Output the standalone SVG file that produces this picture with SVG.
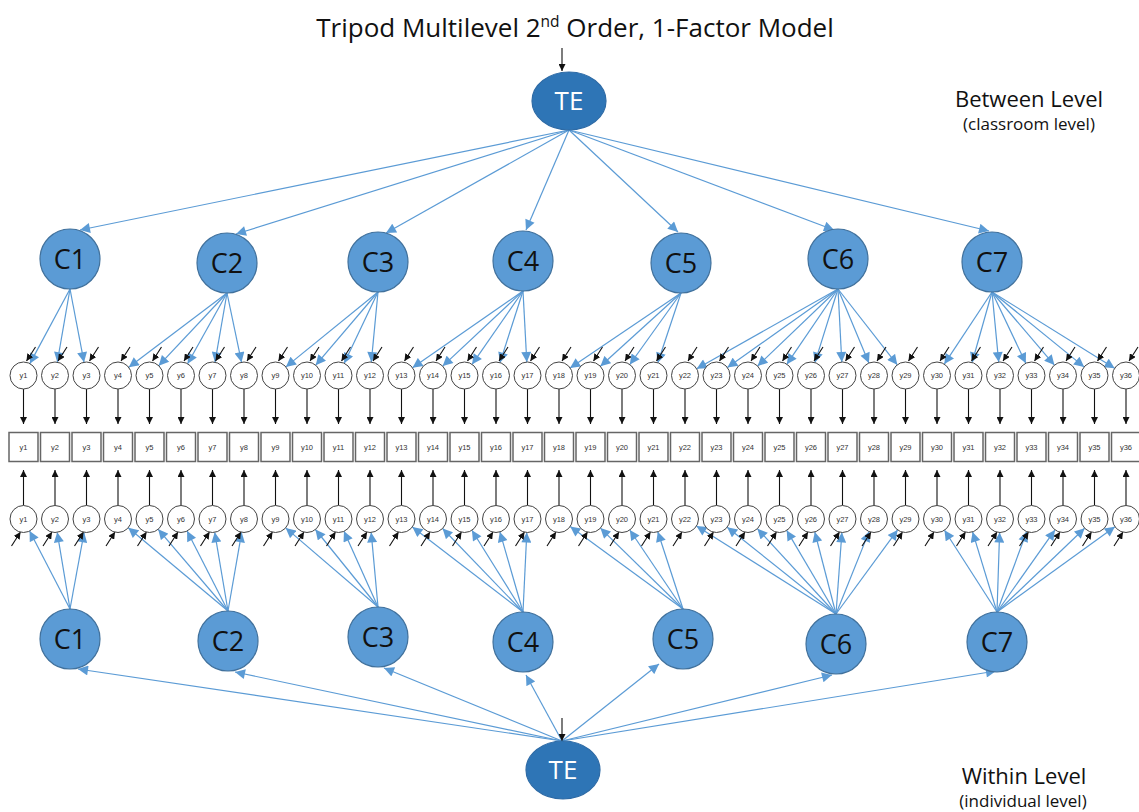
<svg xmlns="http://www.w3.org/2000/svg" width="1139" height="812" viewBox="0 0 1139 812">
<defs>
<marker id="ab" viewBox="0 0 10 10" refX="10" refY="5" markerWidth="11" markerHeight="10" markerUnits="userSpaceOnUse" orient="auto"><path d="M0,0 L10,5 L0,10 z" fill="#5B9BD5"/></marker>
<marker id="ak" viewBox="0 0 10 10" refX="10" refY="5" markerWidth="7" markerHeight="7" markerUnits="userSpaceOnUse" orient="auto"><path d="M0,0 L10,5 L0,10 z" fill="#111"/></marker>
</defs>
<style>
.lbl{font-family:"Open Sans","Liberation Sans",sans-serif;fill:#111}
.it circle{fill:#fff;stroke:#444;stroke-width:1}
.it rect{fill:#fff;stroke:#666;stroke-width:1.5}
.it text{font-family:"Liberation Sans",Arial,sans-serif;font-size:7.5px;text-anchor:middle;fill:#333}
.c ellipse{fill:#5B9BD5;stroke:#41719C;stroke-width:1.2}
.c text{font-family:"Open Sans","Liberation Sans",sans-serif;font-size:27px;text-anchor:middle;fill:#111}
.te ellipse{fill:#2E75B6;stroke:#2E6BA6;stroke-width:1.2}
.te text{font-family:"Open Sans","Liberation Sans",sans-serif;font-size:26px;text-anchor:middle;fill:#fff}
.bl line{stroke:#5B9BD5;stroke-width:1.2;marker-end:url(#ab)}
.bk line{stroke:#111;stroke-width:1.1;marker-end:url(#ak)}
</style>
<rect width="1139" height="812" fill="#fff"/>
<text class="lbl" x="575" y="37" font-size="26" text-anchor="middle">Tripod Multilevel 2<tspan font-size="15.5" dy="-10">nd</tspan><tspan dy="10"> Order, 1-Factor Model</tspan></text>
<text class="lbl" x="1029" y="107" font-size="22" text-anchor="middle">Between Level</text>
<text class="lbl" x="1029" y="130" font-size="17" text-anchor="middle">(classroom level)</text>
<text class="lbl" x="1024" y="784" font-size="22" text-anchor="middle">Within Level</text>
<text class="lbl" x="1023" y="807" font-size="17" text-anchor="middle">(individual level)</text>

<g id="connectors">
<g class="bl">
<line x1="569" y1="130" x2="80" y2="230"/>
<line x1="569" y1="130" x2="236" y2="234"/>
<line x1="569" y1="130" x2="386" y2="233"/>
<line x1="569" y1="130" x2="526" y2="230"/>
<line x1="569" y1="130" x2="678" y2="232"/>
<line x1="569" y1="130" x2="834" y2="230"/>
<line x1="569" y1="130" x2="989" y2="231"/>
<line x1="562" y1="741" x2="78" y2="669"/>
<line x1="562" y1="741" x2="235" y2="672"/>
<line x1="562" y1="741" x2="384" y2="668"/>
<line x1="562" y1="741" x2="526" y2="675"/>
<line x1="562" y1="741" x2="659" y2="664"/>
<line x1="562" y1="741" x2="832" y2="675"/>
<line x1="562" y1="741" x2="996" y2="671"/>
<line x1="70" y1="289" x2="29.9" y2="363.6"/>
<line x1="70" y1="289" x2="57.3" y2="362.2"/>
<line x1="70" y1="289" x2="84" y2="362.2"/>
<line x1="227" y1="293" x2="128.8" y2="367.3"/>
<line x1="227" y1="293" x2="158.7" y2="365.7"/>
<line x1="227" y1="293" x2="187.6" y2="363.7"/>
<line x1="227" y1="293" x2="215" y2="362.2"/>
<line x1="227" y1="293" x2="241.5" y2="362.2"/>
<line x1="378" y1="292" x2="285.9" y2="366.9"/>
<line x1="378" y1="292" x2="315.7" y2="365.2"/>
<line x1="378" y1="292" x2="344.2" y2="363.3"/>
<line x1="378" y1="292" x2="371.3" y2="362.1"/>
<line x1="523" y1="291" x2="412.5" y2="367.7"/>
<line x1="523" y1="291" x2="442.7" y2="366.1"/>
<line x1="523" y1="291" x2="472.1" y2="364.3"/>
<line x1="523" y1="291" x2="500" y2="362.6"/>
<line x1="523" y1="291" x2="526.8" y2="362"/>
<line x1="681" y1="293" x2="570.1" y2="367.9"/>
<line x1="681" y1="293" x2="600.4" y2="366.3"/>
<line x1="681" y1="293" x2="629.8" y2="364.5"/>
<line x1="681" y1="293" x2="657.8" y2="362.7"/>
<line x1="838" y1="289" x2="696.7" y2="368.7"/>
<line x1="838" y1="289" x2="727.4" y2="367.5"/>
<line x1="838" y1="289" x2="757.6" y2="366"/>
<line x1="838" y1="289" x2="786.9" y2="364.2"/>
<line x1="838" y1="289" x2="814.9" y2="362.6"/>
<line x1="838" y1="289" x2="841.8" y2="362"/>
<line x1="838" y1="289" x2="868.9" y2="363"/>
<line x1="838" y1="289" x2="897.3" y2="364.8"/>
<line x1="992" y1="292" x2="944.3" y2="364.1"/>
<line x1="992" y1="292" x2="972.1" y2="362.5"/>
<line x1="992" y1="292" x2="998.7" y2="362.1"/>
<line x1="992" y1="292" x2="1025.8" y2="363.2"/>
<line x1="992" y1="292" x2="1054.4" y2="365.1"/>
<line x1="992" y1="292" x2="1084.1" y2="366.9"/>
<line x1="992" y1="292" x2="1114.6" y2="368.2"/>
<line x1="70" y1="609" x2="29.6" y2="531"/>
<line x1="70" y1="609" x2="57.2" y2="532.3"/>
<line x1="70" y1="609" x2="84.1" y2="532.3"/>
<line x1="228" y1="611" x2="128.3" y2="527.7"/>
<line x1="228" y1="611" x2="158.2" y2="529.3"/>
<line x1="228" y1="611" x2="187.1" y2="531.1"/>
<line x1="228" y1="611" x2="214.7" y2="532.3"/>
<line x1="228" y1="611" x2="241.7" y2="532.3"/>
<line x1="378" y1="607" x2="285.7" y2="527.9"/>
<line x1="378" y1="607" x2="315.4" y2="529.5"/>
<line x1="378" y1="607" x2="344" y2="531.3"/>
<line x1="378" y1="607" x2="371.2" y2="532.4"/>
<line x1="523" y1="612" x2="412.4" y2="527"/>
<line x1="523" y1="612" x2="442.6" y2="528.5"/>
<line x1="523" y1="612" x2="471.9" y2="530.3"/>
<line x1="523" y1="612" x2="499.9" y2="531.9"/>
<line x1="523" y1="612" x2="526.8" y2="532.5"/>
<line x1="683" y1="609" x2="570.2" y2="526.6"/>
<line x1="683" y1="609" x2="600.4" y2="528.1"/>
<line x1="683" y1="609" x2="629.8" y2="530"/>
<line x1="683" y1="609" x2="657.8" y2="531.8"/>
<line x1="836" y1="614" x2="696.5" y2="526"/>
<line x1="836" y1="614" x2="727.2" y2="527.2"/>
<line x1="836" y1="614" x2="757.4" y2="528.7"/>
<line x1="836" y1="614" x2="786.7" y2="530.4"/>
<line x1="836" y1="614" x2="814.8" y2="532"/>
<line x1="836" y1="614" x2="841.9" y2="532.5"/>
<line x1="836" y1="614" x2="869.1" y2="531.6"/>
<line x1="836" y1="614" x2="897.6" y2="529.9"/>
<line x1="997" y1="612" x2="944.5" y2="530.2"/>
<line x1="997" y1="612" x2="972.6" y2="531.9"/>
<line x1="997" y1="612" x2="999.6" y2="532.5"/>
<line x1="997" y1="612" x2="1026.7" y2="531.6"/>
<line x1="997" y1="612" x2="1055" y2="529.9"/>
<line x1="997" y1="612" x2="1084.6" y2="528.2"/>
<line x1="997" y1="612" x2="1114.9" y2="526.7"/>
</g>
<g class="bk">
<line x1="562" y1="48" x2="562" y2="71"/>
<line x1="562" y1="718" x2="562" y2="741"/>
<line x1="23.5" y1="389" x2="23.5" y2="424"/><line x1="55" y1="389" x2="55" y2="424"/><line x1="86.5" y1="389" x2="86.5" y2="424"/><line x1="118" y1="389" x2="118" y2="424"/><line x1="149.5" y1="389" x2="149.5" y2="424"/><line x1="181" y1="389" x2="181" y2="424"/><line x1="212.5" y1="389" x2="212.5" y2="424"/><line x1="244" y1="389" x2="244" y2="424"/><line x1="275.5" y1="389" x2="275.5" y2="424"/><line x1="307" y1="389" x2="307" y2="424"/><line x1="338.5" y1="389" x2="338.5" y2="424"/><line x1="370" y1="389" x2="370" y2="424"/>
<line x1="401.5" y1="389" x2="401.5" y2="424"/><line x1="433" y1="389" x2="433" y2="424"/><line x1="464.5" y1="389" x2="464.5" y2="424"/><line x1="496" y1="389" x2="496" y2="424"/><line x1="527.5" y1="389" x2="527.5" y2="424"/><line x1="559" y1="389" x2="559" y2="424"/><line x1="590.5" y1="389" x2="590.5" y2="424"/><line x1="622" y1="389" x2="622" y2="424"/><line x1="653.5" y1="389" x2="653.5" y2="424"/><line x1="685" y1="389" x2="685" y2="424"/><line x1="716.5" y1="389" x2="716.5" y2="424"/><line x1="748" y1="389" x2="748" y2="424"/>
<line x1="779.5" y1="389" x2="779.5" y2="424"/><line x1="811" y1="389" x2="811" y2="424"/><line x1="842.5" y1="389" x2="842.5" y2="424"/><line x1="874" y1="389" x2="874" y2="424"/><line x1="905.5" y1="389" x2="905.5" y2="424"/><line x1="937" y1="389" x2="937" y2="424"/><line x1="968.5" y1="389" x2="968.5" y2="424"/><line x1="1000" y1="389" x2="1000" y2="424"/><line x1="1031.5" y1="389" x2="1031.5" y2="424"/><line x1="1063" y1="389" x2="1063" y2="424"/><line x1="1094.5" y1="389" x2="1094.5" y2="424"/><line x1="1126" y1="389" x2="1126" y2="424"/>
<line x1="23.5" y1="505.5" x2="23.5" y2="470"/><line x1="55" y1="505.5" x2="55" y2="470"/><line x1="86.5" y1="505.5" x2="86.5" y2="470"/><line x1="118" y1="505.5" x2="118" y2="470"/><line x1="149.5" y1="505.5" x2="149.5" y2="470"/><line x1="181" y1="505.5" x2="181" y2="470"/><line x1="212.5" y1="505.5" x2="212.5" y2="470"/><line x1="244" y1="505.5" x2="244" y2="470"/><line x1="275.5" y1="505.5" x2="275.5" y2="470"/><line x1="307" y1="505.5" x2="307" y2="470"/><line x1="338.5" y1="505.5" x2="338.5" y2="470"/><line x1="370" y1="505.5" x2="370" y2="470"/>
<line x1="401.5" y1="505.5" x2="401.5" y2="470"/><line x1="433" y1="505.5" x2="433" y2="470"/><line x1="464.5" y1="505.5" x2="464.5" y2="470"/><line x1="496" y1="505.5" x2="496" y2="470"/><line x1="527.5" y1="505.5" x2="527.5" y2="470"/><line x1="559" y1="505.5" x2="559" y2="470"/><line x1="590.5" y1="505.5" x2="590.5" y2="470"/><line x1="622" y1="505.5" x2="622" y2="470"/><line x1="653.5" y1="505.5" x2="653.5" y2="470"/><line x1="685" y1="505.5" x2="685" y2="470"/><line x1="716.5" y1="505.5" x2="716.5" y2="470"/><line x1="748" y1="505.5" x2="748" y2="470"/>
<line x1="779.5" y1="505.5" x2="779.5" y2="470"/><line x1="811" y1="505.5" x2="811" y2="470"/><line x1="842.5" y1="505.5" x2="842.5" y2="470"/><line x1="874" y1="505.5" x2="874" y2="470"/><line x1="905.5" y1="505.5" x2="905.5" y2="470"/><line x1="937" y1="505.5" x2="937" y2="470"/><line x1="968.5" y1="505.5" x2="968.5" y2="470"/><line x1="1000" y1="505.5" x2="1000" y2="470"/><line x1="1031.5" y1="505.5" x2="1031.5" y2="470"/><line x1="1063" y1="505.5" x2="1063" y2="470"/><line x1="1094.5" y1="505.5" x2="1094.5" y2="470"/><line x1="1126" y1="505.5" x2="1126" y2="470"/>
<line x1="35.5" y1="347" x2="26.5" y2="361"/><line x1="67" y1="347" x2="58" y2="361"/><line x1="98.5" y1="347" x2="89.5" y2="361"/><line x1="130" y1="347" x2="121" y2="361"/><line x1="161.5" y1="347" x2="152.5" y2="361"/><line x1="193" y1="347" x2="184" y2="361"/><line x1="224.5" y1="347" x2="215.5" y2="361"/><line x1="256" y1="347" x2="247" y2="361"/><line x1="287.5" y1="347" x2="278.5" y2="361"/><line x1="319" y1="347" x2="310" y2="361"/><line x1="350.5" y1="347" x2="341.5" y2="361"/><line x1="382" y1="347" x2="373" y2="361"/>
<line x1="413.5" y1="347" x2="404.5" y2="361"/><line x1="445" y1="347" x2="436" y2="361"/><line x1="476.5" y1="347" x2="467.5" y2="361"/><line x1="508" y1="347" x2="499" y2="361"/><line x1="539.5" y1="347" x2="530.5" y2="361"/><line x1="571" y1="347" x2="562" y2="361"/><line x1="602.5" y1="347" x2="593.5" y2="361"/><line x1="634" y1="347" x2="625" y2="361"/><line x1="665.5" y1="347" x2="656.5" y2="361"/><line x1="697" y1="347" x2="688" y2="361"/><line x1="728.5" y1="347" x2="719.5" y2="361"/><line x1="760" y1="347" x2="751" y2="361"/>
<line x1="791.5" y1="347" x2="782.5" y2="361"/><line x1="823" y1="347" x2="814" y2="361"/><line x1="854.5" y1="347" x2="845.5" y2="361"/><line x1="886" y1="347" x2="877" y2="361"/><line x1="917.5" y1="347" x2="908.5" y2="361"/><line x1="949" y1="347" x2="940" y2="361"/><line x1="980.5" y1="347" x2="971.5" y2="361"/><line x1="1012" y1="347" x2="1003" y2="361"/><line x1="1043.5" y1="347" x2="1034.5" y2="361"/><line x1="1075" y1="347" x2="1066" y2="361"/><line x1="1106.5" y1="347" x2="1097.5" y2="361"/><line x1="1138" y1="347" x2="1129" y2="361"/>
<line x1="11.5" y1="546" x2="20.5" y2="532"/><line x1="43" y1="546" x2="52" y2="532"/><line x1="74.5" y1="546" x2="83.5" y2="532"/><line x1="106" y1="546" x2="115" y2="532"/><line x1="137.5" y1="546" x2="146.5" y2="532"/><line x1="169" y1="546" x2="178" y2="532"/><line x1="200.5" y1="546" x2="209.5" y2="532"/><line x1="232" y1="546" x2="241" y2="532"/><line x1="263.5" y1="546" x2="272.5" y2="532"/><line x1="295" y1="546" x2="304" y2="532"/><line x1="326.5" y1="546" x2="335.5" y2="532"/><line x1="358" y1="546" x2="367" y2="532"/>
<line x1="389.5" y1="546" x2="398.5" y2="532"/><line x1="421" y1="546" x2="430" y2="532"/><line x1="452.5" y1="546" x2="461.5" y2="532"/><line x1="484" y1="546" x2="493" y2="532"/><line x1="515.5" y1="546" x2="524.5" y2="532"/><line x1="547" y1="546" x2="556" y2="532"/><line x1="578.5" y1="546" x2="587.5" y2="532"/><line x1="610" y1="546" x2="619" y2="532"/><line x1="641.5" y1="546" x2="650.5" y2="532"/><line x1="673" y1="546" x2="682" y2="532"/><line x1="704.5" y1="546" x2="713.5" y2="532"/><line x1="736" y1="546" x2="745" y2="532"/>
<line x1="767.5" y1="546" x2="776.5" y2="532"/><line x1="799" y1="546" x2="808" y2="532"/><line x1="830.5" y1="546" x2="839.5" y2="532"/><line x1="862" y1="546" x2="871" y2="532"/><line x1="893.5" y1="546" x2="902.5" y2="532"/><line x1="925" y1="546" x2="934" y2="532"/><line x1="956.5" y1="546" x2="965.5" y2="532"/><line x1="988" y1="546" x2="997" y2="532"/><line x1="1019.5" y1="546" x2="1028.5" y2="532"/><line x1="1051" y1="546" x2="1060" y2="532"/><line x1="1082.5" y1="546" x2="1091.5" y2="532"/><line x1="1114" y1="546" x2="1123" y2="532"/>
</g>
</g>

<g id="TE_between" class="te"><ellipse cx="569" cy="101" rx="37" ry="29"/><text x="569" y="110">TE</text></g>
<g id="TE_within" class="te"><ellipse cx="563" cy="770" rx="37" ry="29"/><text x="563" y="779">TE</text></g>

<g id="C1_between" class="c"><ellipse cx="70" cy="259" rx="30" ry="30"/><text x="70" y="268.5">C1</text></g>
<g id="C2_between" class="c"><ellipse cx="227" cy="263" rx="30" ry="30"/><text x="227" y="272.5">C2</text></g>
<g id="C3_between" class="c"><ellipse cx="378" cy="262" rx="30" ry="30"/><text x="378" y="271.5">C3</text></g>
<g id="C4_between" class="c"><ellipse cx="523" cy="261" rx="30" ry="30"/><text x="523" y="270.5">C4</text></g>
<g id="C5_between" class="c"><ellipse cx="681" cy="263" rx="30" ry="30"/><text x="681" y="272.5">C5</text></g>
<g id="C6_between" class="c"><ellipse cx="838" cy="259" rx="30" ry="30"/><text x="838" y="268.5">C6</text></g>
<g id="C7_between" class="c"><ellipse cx="992" cy="262" rx="30" ry="30"/><text x="992" y="271.5">C7</text></g>

<g id="C1_within" class="c"><ellipse cx="70" cy="639" rx="30" ry="30"/><text x="70" y="648.5">C1</text></g>
<g id="C2_within" class="c"><ellipse cx="228" cy="641" rx="30" ry="30"/><text x="228" y="650.5">C2</text></g>
<g id="C3_within" class="c"><ellipse cx="378" cy="637" rx="30" ry="30"/><text x="378" y="646.5">C3</text></g>
<g id="C4_within" class="c"><ellipse cx="523" cy="642" rx="30" ry="30"/><text x="523" y="651.5">C4</text></g>
<g id="C5_within" class="c"><ellipse cx="683" cy="639" rx="30" ry="30"/><text x="683" y="648.5">C5</text></g>
<g id="C6_within" class="c"><ellipse cx="836" cy="644" rx="30" ry="30"/><text x="836" y="653.5">C6</text></g>
<g id="C7_within" class="c"><ellipse cx="997" cy="642" rx="30" ry="30"/><text x="997" y="651.5">C7</text></g>

<g id="between_items" class="it">
<g id="b_y1"><circle cx="23.5" cy="375.5" r="13.5"/><text x="23.5" y="378.2">y1</text></g>
<g id="b_y2"><circle cx="55" cy="375.5" r="13.5"/><text x="55" y="378.2">y2</text></g>
<g id="b_y3"><circle cx="86.5" cy="375.5" r="13.5"/><text x="86.5" y="378.2">y3</text></g>
<g id="b_y4"><circle cx="118" cy="375.5" r="13.5"/><text x="118" y="378.2">y4</text></g>
<g id="b_y5"><circle cx="149.5" cy="375.5" r="13.5"/><text x="149.5" y="378.2">y5</text></g>
<g id="b_y6"><circle cx="181" cy="375.5" r="13.5"/><text x="181" y="378.2">y6</text></g>
<g id="b_y7"><circle cx="212.5" cy="375.5" r="13.5"/><text x="212.5" y="378.2">y7</text></g>
<g id="b_y8"><circle cx="244" cy="375.5" r="13.5"/><text x="244" y="378.2">y8</text></g>
<g id="b_y9"><circle cx="275.5" cy="375.5" r="13.5"/><text x="275.5" y="378.2">y9</text></g>
<g id="b_y10"><circle cx="307" cy="375.5" r="13.5"/><text x="307" y="378.2">y10</text></g>
<g id="b_y11"><circle cx="338.5" cy="375.5" r="13.5"/><text x="338.5" y="378.2">y11</text></g>
<g id="b_y12"><circle cx="370" cy="375.5" r="13.5"/><text x="370" y="378.2">y12</text></g>
<g id="b_y13"><circle cx="401.5" cy="375.5" r="13.5"/><text x="401.5" y="378.2">y13</text></g>
<g id="b_y14"><circle cx="433" cy="375.5" r="13.5"/><text x="433" y="378.2">y14</text></g>
<g id="b_y15"><circle cx="464.5" cy="375.5" r="13.5"/><text x="464.5" y="378.2">y15</text></g>
<g id="b_y16"><circle cx="496" cy="375.5" r="13.5"/><text x="496" y="378.2">y16</text></g>
<g id="b_y17"><circle cx="527.5" cy="375.5" r="13.5"/><text x="527.5" y="378.2">y17</text></g>
<g id="b_y18"><circle cx="559" cy="375.5" r="13.5"/><text x="559" y="378.2">y18</text></g>
<g id="b_y19"><circle cx="590.5" cy="375.5" r="13.5"/><text x="590.5" y="378.2">y19</text></g>
<g id="b_y20"><circle cx="622" cy="375.5" r="13.5"/><text x="622" y="378.2">y20</text></g>
<g id="b_y21"><circle cx="653.5" cy="375.5" r="13.5"/><text x="653.5" y="378.2">y21</text></g>
<g id="b_y22"><circle cx="685" cy="375.5" r="13.5"/><text x="685" y="378.2">y22</text></g>
<g id="b_y23"><circle cx="716.5" cy="375.5" r="13.5"/><text x="716.5" y="378.2">y23</text></g>
<g id="b_y24"><circle cx="748" cy="375.5" r="13.5"/><text x="748" y="378.2">y24</text></g>
<g id="b_y25"><circle cx="779.5" cy="375.5" r="13.5"/><text x="779.5" y="378.2">y25</text></g>
<g id="b_y26"><circle cx="811" cy="375.5" r="13.5"/><text x="811" y="378.2">y26</text></g>
<g id="b_y27"><circle cx="842.5" cy="375.5" r="13.5"/><text x="842.5" y="378.2">y27</text></g>
<g id="b_y28"><circle cx="874" cy="375.5" r="13.5"/><text x="874" y="378.2">y28</text></g>
<g id="b_y29"><circle cx="905.5" cy="375.5" r="13.5"/><text x="905.5" y="378.2">y29</text></g>
<g id="b_y30"><circle cx="937" cy="375.5" r="13.5"/><text x="937" y="378.2">y30</text></g>
<g id="b_y31"><circle cx="968.5" cy="375.5" r="13.5"/><text x="968.5" y="378.2">y31</text></g>
<g id="b_y32"><circle cx="1000" cy="375.5" r="13.5"/><text x="1000" y="378.2">y32</text></g>
<g id="b_y33"><circle cx="1031.5" cy="375.5" r="13.5"/><text x="1031.5" y="378.2">y33</text></g>
<g id="b_y34"><circle cx="1063" cy="375.5" r="13.5"/><text x="1063" y="378.2">y34</text></g>
<g id="b_y35"><circle cx="1094.5" cy="375.5" r="13.5"/><text x="1094.5" y="378.2">y35</text></g>
<g id="b_y36"><circle cx="1126" cy="375.5" r="13.5"/><text x="1126" y="378.2">y36</text></g>
</g>

<g id="observed" class="it">
<g id="o_y1"><rect x="9" y="432.5" width="29" height="29"/><text x="23.5" y="449.7">y1</text></g>
<g id="o_y2"><rect x="40.5" y="432.5" width="29" height="29"/><text x="55" y="449.7">y2</text></g>
<g id="o_y3"><rect x="72" y="432.5" width="29" height="29"/><text x="86.5" y="449.7">y3</text></g>
<g id="o_y4"><rect x="103.5" y="432.5" width="29" height="29"/><text x="118" y="449.7">y4</text></g>
<g id="o_y5"><rect x="135" y="432.5" width="29" height="29"/><text x="149.5" y="449.7">y5</text></g>
<g id="o_y6"><rect x="166.5" y="432.5" width="29" height="29"/><text x="181" y="449.7">y6</text></g>
<g id="o_y7"><rect x="198" y="432.5" width="29" height="29"/><text x="212.5" y="449.7">y7</text></g>
<g id="o_y8"><rect x="229.5" y="432.5" width="29" height="29"/><text x="244" y="449.7">y8</text></g>
<g id="o_y9"><rect x="261" y="432.5" width="29" height="29"/><text x="275.5" y="449.7">y9</text></g>
<g id="o_y10"><rect x="292.5" y="432.5" width="29" height="29"/><text x="307" y="449.7">y10</text></g>
<g id="o_y11"><rect x="324" y="432.5" width="29" height="29"/><text x="338.5" y="449.7">y11</text></g>
<g id="o_y12"><rect x="355.5" y="432.5" width="29" height="29"/><text x="370" y="449.7">y12</text></g>
<g id="o_y13"><rect x="387" y="432.5" width="29" height="29"/><text x="401.5" y="449.7">y13</text></g>
<g id="o_y14"><rect x="418.5" y="432.5" width="29" height="29"/><text x="433" y="449.7">y14</text></g>
<g id="o_y15"><rect x="450" y="432.5" width="29" height="29"/><text x="464.5" y="449.7">y15</text></g>
<g id="o_y16"><rect x="481.5" y="432.5" width="29" height="29"/><text x="496" y="449.7">y16</text></g>
<g id="o_y17"><rect x="513" y="432.5" width="29" height="29"/><text x="527.5" y="449.7">y17</text></g>
<g id="o_y18"><rect x="544.5" y="432.5" width="29" height="29"/><text x="559" y="449.7">y18</text></g>
<g id="o_y19"><rect x="576" y="432.5" width="29" height="29"/><text x="590.5" y="449.7">y19</text></g>
<g id="o_y20"><rect x="607.5" y="432.5" width="29" height="29"/><text x="622" y="449.7">y20</text></g>
<g id="o_y21"><rect x="639" y="432.5" width="29" height="29"/><text x="653.5" y="449.7">y21</text></g>
<g id="o_y22"><rect x="670.5" y="432.5" width="29" height="29"/><text x="685" y="449.7">y22</text></g>
<g id="o_y23"><rect x="702" y="432.5" width="29" height="29"/><text x="716.5" y="449.7">y23</text></g>
<g id="o_y24"><rect x="733.5" y="432.5" width="29" height="29"/><text x="748" y="449.7">y24</text></g>
<g id="o_y25"><rect x="765" y="432.5" width="29" height="29"/><text x="779.5" y="449.7">y25</text></g>
<g id="o_y26"><rect x="796.5" y="432.5" width="29" height="29"/><text x="811" y="449.7">y26</text></g>
<g id="o_y27"><rect x="828" y="432.5" width="29" height="29"/><text x="842.5" y="449.7">y27</text></g>
<g id="o_y28"><rect x="859.5" y="432.5" width="29" height="29"/><text x="874" y="449.7">y28</text></g>
<g id="o_y29"><rect x="891" y="432.5" width="29" height="29"/><text x="905.5" y="449.7">y29</text></g>
<g id="o_y30"><rect x="922.5" y="432.5" width="29" height="29"/><text x="937" y="449.7">y30</text></g>
<g id="o_y31"><rect x="954" y="432.5" width="29" height="29"/><text x="968.5" y="449.7">y31</text></g>
<g id="o_y32"><rect x="985.5" y="432.5" width="29" height="29"/><text x="1000" y="449.7">y32</text></g>
<g id="o_y33"><rect x="1017" y="432.5" width="29" height="29"/><text x="1031.5" y="449.7">y33</text></g>
<g id="o_y34"><rect x="1048.5" y="432.5" width="29" height="29"/><text x="1063" y="449.7">y34</text></g>
<g id="o_y35"><rect x="1080" y="432.5" width="29" height="29"/><text x="1094.5" y="449.7">y35</text></g>
<g id="o_y36"><rect x="1111.5" y="432.5" width="29" height="29"/><text x="1126" y="449.7">y36</text></g>
</g>

<g id="within_items" class="it">
<g id="w_y1"><circle cx="23.5" cy="519" r="13.5"/><text x="23.5" y="521.7">y1</text></g>
<g id="w_y2"><circle cx="55" cy="519" r="13.5"/><text x="55" y="521.7">y2</text></g>
<g id="w_y3"><circle cx="86.5" cy="519" r="13.5"/><text x="86.5" y="521.7">y3</text></g>
<g id="w_y4"><circle cx="118" cy="519" r="13.5"/><text x="118" y="521.7">y4</text></g>
<g id="w_y5"><circle cx="149.5" cy="519" r="13.5"/><text x="149.5" y="521.7">y5</text></g>
<g id="w_y6"><circle cx="181" cy="519" r="13.5"/><text x="181" y="521.7">y6</text></g>
<g id="w_y7"><circle cx="212.5" cy="519" r="13.5"/><text x="212.5" y="521.7">y7</text></g>
<g id="w_y8"><circle cx="244" cy="519" r="13.5"/><text x="244" y="521.7">y8</text></g>
<g id="w_y9"><circle cx="275.5" cy="519" r="13.5"/><text x="275.5" y="521.7">y9</text></g>
<g id="w_y10"><circle cx="307" cy="519" r="13.5"/><text x="307" y="521.7">y10</text></g>
<g id="w_y11"><circle cx="338.5" cy="519" r="13.5"/><text x="338.5" y="521.7">y11</text></g>
<g id="w_y12"><circle cx="370" cy="519" r="13.5"/><text x="370" y="521.7">y12</text></g>
<g id="w_y13"><circle cx="401.5" cy="519" r="13.5"/><text x="401.5" y="521.7">y13</text></g>
<g id="w_y14"><circle cx="433" cy="519" r="13.5"/><text x="433" y="521.7">y14</text></g>
<g id="w_y15"><circle cx="464.5" cy="519" r="13.5"/><text x="464.5" y="521.7">y15</text></g>
<g id="w_y16"><circle cx="496" cy="519" r="13.5"/><text x="496" y="521.7">y16</text></g>
<g id="w_y17"><circle cx="527.5" cy="519" r="13.5"/><text x="527.5" y="521.7">y17</text></g>
<g id="w_y18"><circle cx="559" cy="519" r="13.5"/><text x="559" y="521.7">y18</text></g>
<g id="w_y19"><circle cx="590.5" cy="519" r="13.5"/><text x="590.5" y="521.7">y19</text></g>
<g id="w_y20"><circle cx="622" cy="519" r="13.5"/><text x="622" y="521.7">y20</text></g>
<g id="w_y21"><circle cx="653.5" cy="519" r="13.5"/><text x="653.5" y="521.7">y21</text></g>
<g id="w_y22"><circle cx="685" cy="519" r="13.5"/><text x="685" y="521.7">y22</text></g>
<g id="w_y23"><circle cx="716.5" cy="519" r="13.5"/><text x="716.5" y="521.7">y23</text></g>
<g id="w_y24"><circle cx="748" cy="519" r="13.5"/><text x="748" y="521.7">y24</text></g>
<g id="w_y25"><circle cx="779.5" cy="519" r="13.5"/><text x="779.5" y="521.7">y25</text></g>
<g id="w_y26"><circle cx="811" cy="519" r="13.5"/><text x="811" y="521.7">y26</text></g>
<g id="w_y27"><circle cx="842.5" cy="519" r="13.5"/><text x="842.5" y="521.7">y27</text></g>
<g id="w_y28"><circle cx="874" cy="519" r="13.5"/><text x="874" y="521.7">y28</text></g>
<g id="w_y29"><circle cx="905.5" cy="519" r="13.5"/><text x="905.5" y="521.7">y29</text></g>
<g id="w_y30"><circle cx="937" cy="519" r="13.5"/><text x="937" y="521.7">y30</text></g>
<g id="w_y31"><circle cx="968.5" cy="519" r="13.5"/><text x="968.5" y="521.7">y31</text></g>
<g id="w_y32"><circle cx="1000" cy="519" r="13.5"/><text x="1000" y="521.7">y32</text></g>
<g id="w_y33"><circle cx="1031.5" cy="519" r="13.5"/><text x="1031.5" y="521.7">y33</text></g>
<g id="w_y34"><circle cx="1063" cy="519" r="13.5"/><text x="1063" y="521.7">y34</text></g>
<g id="w_y35"><circle cx="1094.5" cy="519" r="13.5"/><text x="1094.5" y="521.7">y35</text></g>
<g id="w_y36"><circle cx="1126" cy="519" r="13.5"/><text x="1126" y="521.7">y36</text></g>
</g>
</svg>
